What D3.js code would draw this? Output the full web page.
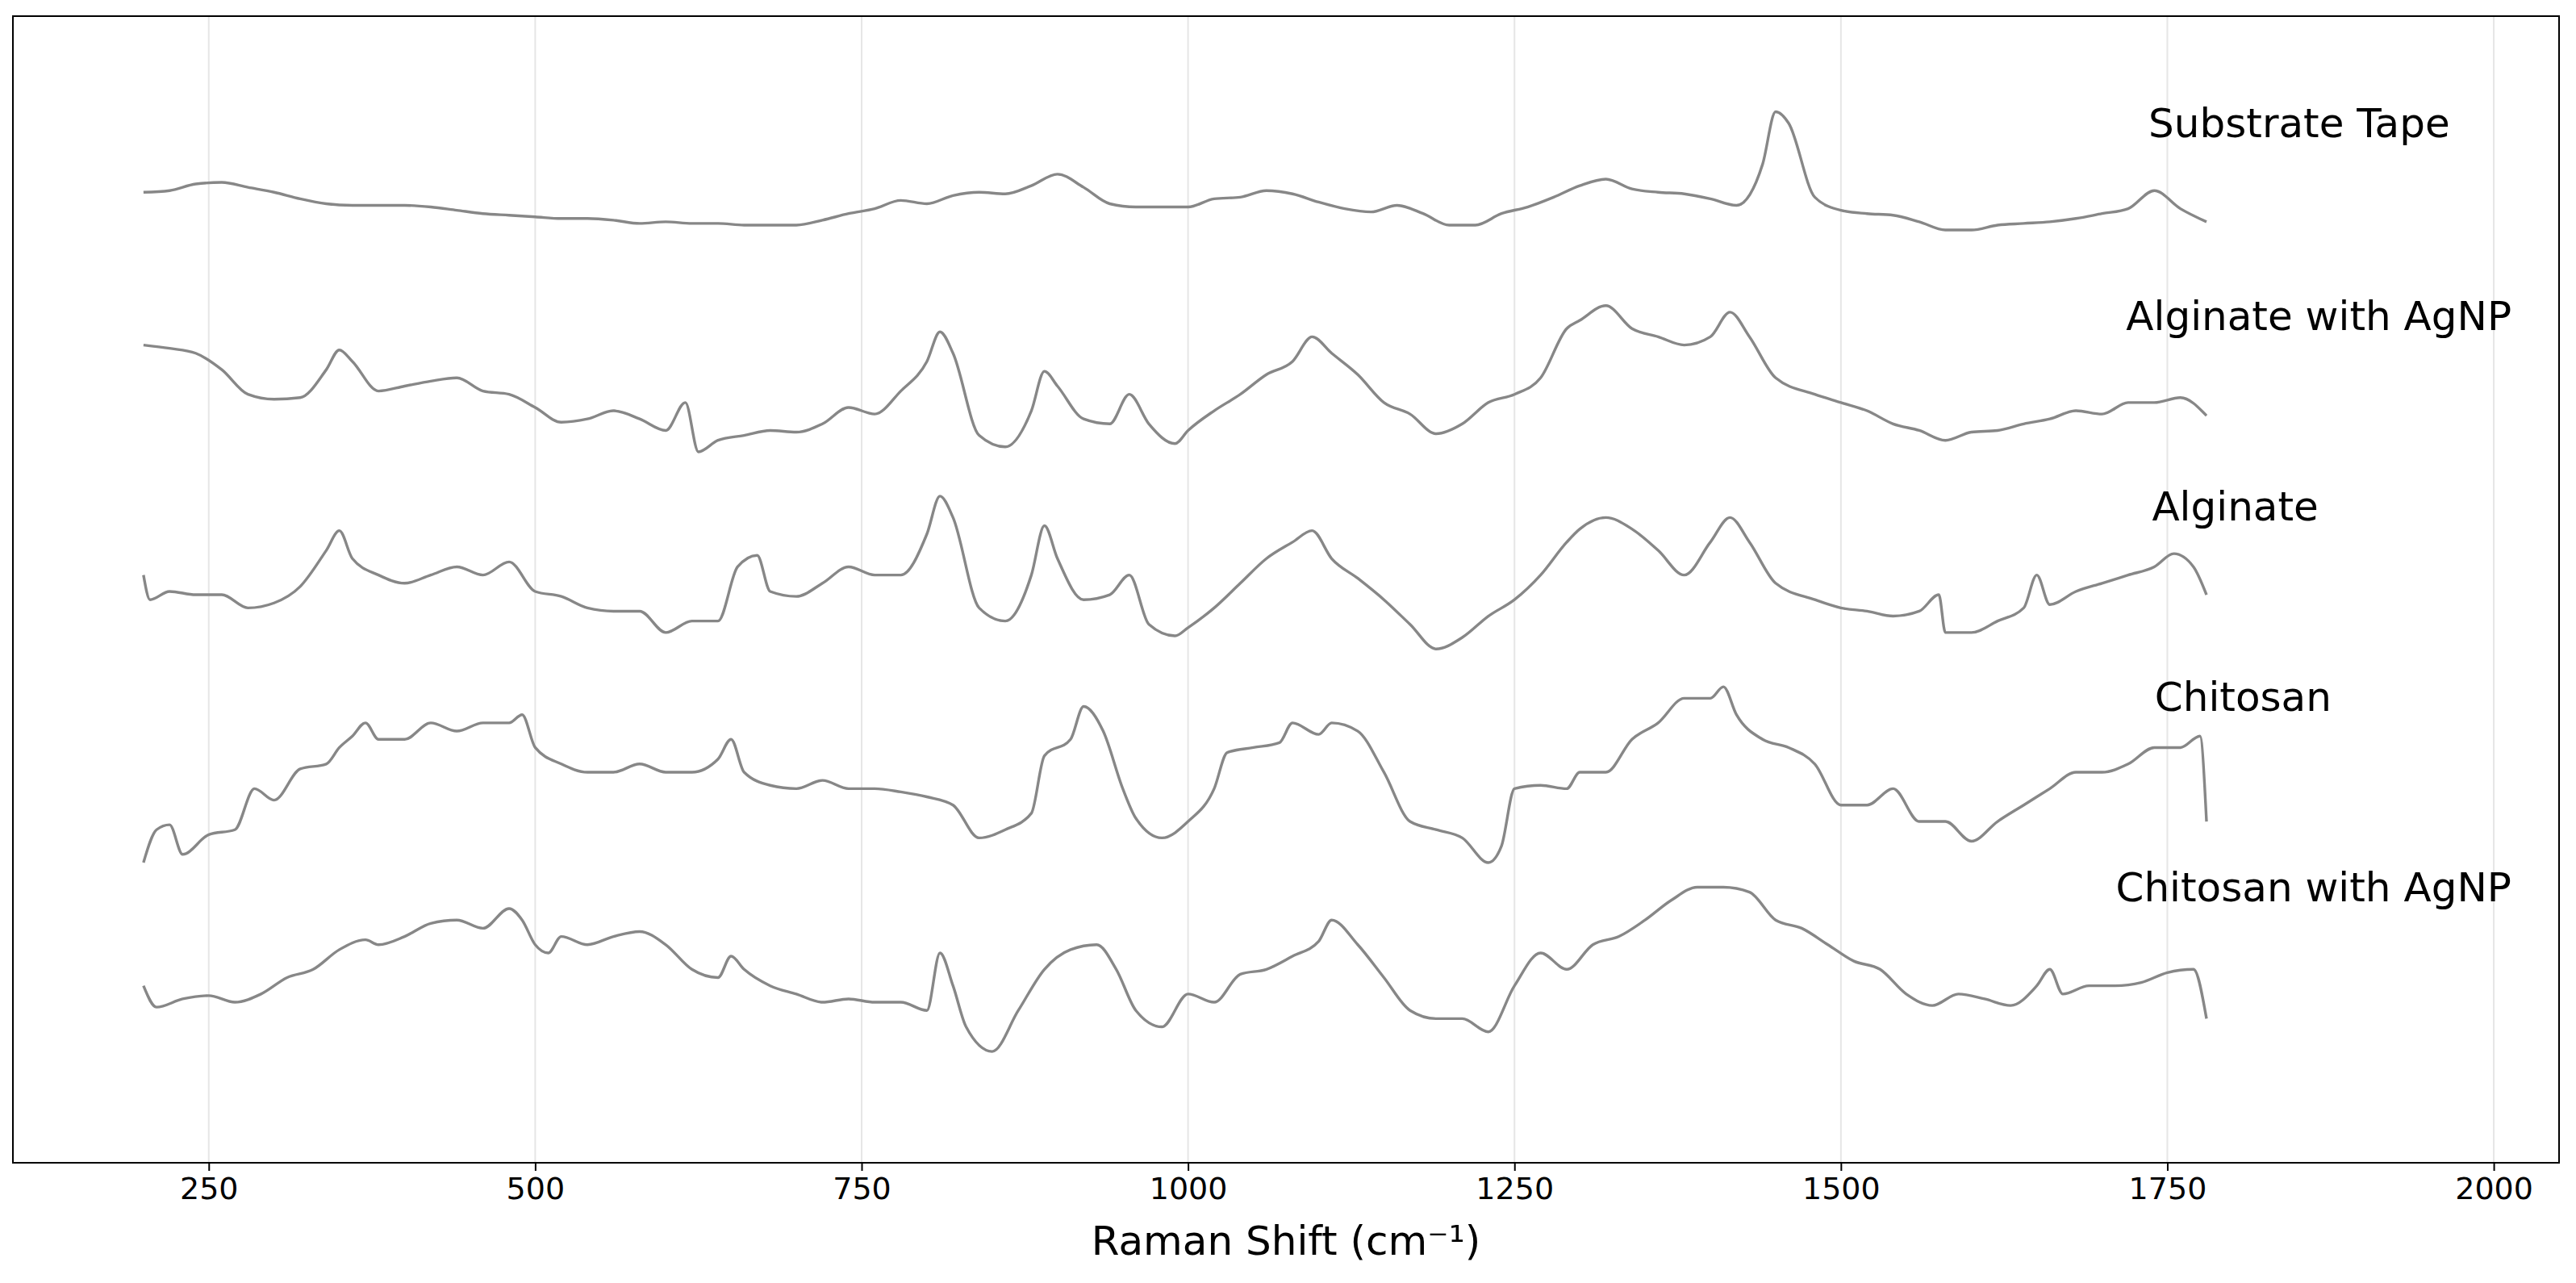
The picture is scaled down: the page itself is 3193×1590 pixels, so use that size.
<!DOCTYPE html>
<html>
<head>
<meta charset="utf-8">
<script src="https://cdn.jsdelivr.net/npm/d3@7"></script>
<style>
  body { margin: 0; background: #fff; }
  text { font-family: "DejaVu Sans", sans-serif; }
</style>
</head>
<body>
<svg id="chart" width="3193" height="1590"></svg>
<script>
// spectra: [raman shift, screen-height reading]; intensity = 720 - reading
var substrateTape = [[200,117],[220,116],[240,112],[260,111],[280,114],[300,117],[320,121],[340,124],[360,125],[380,125],[400,125],[420,126],[440,128],[460,130],[480,131],[500,132],[520,133],[540,133],[560,134],[580,136],[600,135],[620,136],[640,136],[660,137],[680,137],[700,137],[720,134],[740,130],[760,127],[780,122],[800,124],[820,119],[840,117],[860,118],[880,113],[900,106],[920,114],[940,124],[960,126],[980,126],[1000,126],[1020,121],[1040,120],[1060,116],[1080,118],[1100,123],[1120,127],[1140,129],[1160,125],[1180,130],[1200,137],[1220,137],[1240,130],[1260,126],[1280,120],[1300,113],[1320,109],[1340,115],[1360,117],[1380,118],[1400,121],[1420,125],[1440,100],[1450,68],[1460,75],[1480,120],[1500,128],[1520,130],[1540,131],[1560,135],[1580,140],[1600,140],[1620,137],[1640,136],[1660,135],[1680,133],[1700,130],[1720,127],[1740,116],[1760,127],[1780,135]];
var alginateAgNP = [[200,210],[220,212],[240,215],[260,225],[280,240],[300,243],[320,242],[340,225],[350,213],[360,220],[380,238],[400,235],[420,232],[440,230],[460,238],[480,240],[500,248],[520,257],[540,255],[560,250],[580,255],[600,262],[615,245],[625,275],[640,268],[660,265],[680,262],[700,263],[720,258],[740,248],[760,252],[780,238],[800,220],[810,202],[820,215],[840,265],[860,272],[880,250],[890,226],[900,235],[920,255],[940,258],[955,240],[970,258],[990,270],[1000,262],[1020,250],[1040,240],[1060,228],[1080,220],[1095,205],[1110,215],[1130,228],[1150,245],[1170,252],[1190,264],[1210,258],[1230,245],[1250,240],[1270,230],[1290,200],[1300,195],[1320,186],[1340,200],[1360,205],[1380,210],[1400,205],[1415,190],[1430,205],[1450,230],[1480,240],[1500,245],[1520,250],[1540,258],[1560,262],[1580,268],[1600,263],[1620,262],[1640,258],[1660,255],[1680,250],[1700,252],[1720,245],[1740,245],[1760,242],[1780,253]];
var alginate = [[200,350],[205,365],[220,360],[240,362],[260,362],[280,370],[300,367],[320,357],[340,335],[350,323],[360,340],[380,350],[400,355],[420,350],[440,345],[460,350],[480,342],[500,360],[520,363],[540,370],[560,372],[580,372],[600,385],[620,378],[640,378],[655,345],[670,338],[680,360],[700,363],[720,355],[740,345],[760,350],[780,350],[800,325],[810,302],[820,315],[840,370],[860,378],[880,350],[890,320],[900,340],[920,365],[940,362],[955,350],[970,380],[990,387],[1000,382],[1020,370],[1040,355],[1060,340],[1080,330],[1095,323],[1110,340],[1130,352],[1150,365],[1170,380],[1190,395],[1210,388],[1230,375],[1250,365],[1270,350],[1290,330],[1300,322],[1320,315],[1340,322],[1360,335],[1380,350],[1400,330],[1415,315],[1430,330],[1450,355],[1480,365],[1500,370],[1520,372],[1540,375],[1560,372],[1575,362],[1580,385],[1600,385],[1620,378],[1640,370],[1650,350],[1660,368],[1680,360],[1700,355],[1720,350],[1740,345],[1755,337],[1770,345],[1780,362]];
var chitosan = [[200,525],[210,505],[220,502],[230,520],[250,508],[270,505],[285,480],[300,487],[320,468],[340,465],[350,455],[360,448],[370,440],[380,450],[400,450],[420,440],[440,445],[460,440],[480,440],[490,435],[500,455],[520,465],[540,470],[560,470],[580,465],[600,470],[620,470],[640,462],[650,450],[660,470],[680,478],[700,480],[720,475],[740,480],[760,480],[780,482],[800,485],[820,490],[840,510],[860,505],[880,495],[890,460],[910,450],[920,430],[935,445],[950,480],[960,498],[980,510],[1000,500],[1020,480],[1030,458],[1050,455],[1070,452],[1080,440],[1100,447],[1110,440],[1130,445],[1150,470],[1170,500],[1190,505],[1210,510],[1230,525],[1240,515],[1250,480],[1270,478],[1290,480],[1300,470],[1320,470],[1340,450],[1360,440],[1380,425],[1400,425],[1410,418],[1420,435],[1440,450],[1460,455],[1480,465],[1500,490],[1520,490],[1540,480],[1560,500],[1580,500],[1600,512],[1620,500],[1640,490],[1660,480],[1680,470],[1700,470],[1720,465],[1740,455],[1760,455],[1775,448],[1780,500]];
var chitosanAgNP = [[200,600],[210,613],[230,608],[250,606],[270,610],[290,605],[310,595],[330,590],[350,578],[370,572],[380,575],[400,570],[420,562],[440,560],[460,565],[480,553],[490,560],[500,575],[510,580],[520,570],[540,575],[560,570],[580,567],[600,575],[620,590],[640,595],[650,582],[660,590],[680,600],[700,605],[720,610],[740,608],[760,610],[780,610],[800,615],[810,580],[820,600],[830,625],[850,640],[870,615],[890,590],[910,578],[930,575],[945,590],[960,615],[980,625],[1000,605],[1020,610],[1040,593],[1060,590],[1080,582],[1100,573],[1110,560],[1130,575],[1150,595],[1170,615],[1190,620],[1210,620],[1230,628],[1250,600],[1270,580],[1290,590],[1310,575],[1330,570],[1350,560],[1370,548],[1390,540],[1410,540],[1430,543],[1450,560],[1470,565],[1490,575],[1510,585],[1530,590],[1550,605],[1570,612],[1590,605],[1610,608],[1630,612],[1650,600],[1660,590],[1670,605],[1690,600],[1710,600],[1730,598],[1750,592],[1770,590],[1780,620]];

var seriesNames = ["Substrate Tape", "Alginate with AgNP", "Alginate", "Chitosan", "Chitosan with AgNP"];
var seriesData = [substrateTape, alginateAgNP, alginate, chitosan, chitosanAgNP];
var labelShift = [1851, 1866, 1802, 1808, 1862];
var labelLevel = [643, 526, 410, 294, 178];
var xTicks = [250, 500, 750, 1000, 1250, 1500, 1750, 2000];

var svg = d3.select("#chart");
var margin = {left: 16, right: 21, top: 20, bottom: 149};
var W = 3193, H = 1590;

var x = d3.scaleLinear().domain([100, 2050]).range([margin.left, W - margin.right]);
var y = d3.scaleLinear().domain([0, 720]).range([1466, 0]);

// grid
svg.append("g").selectAll("line").data(xTicks).enter().append("line")
    .attr("x1", function(d){ return x(d); }).attr("x2", function(d){ return x(d); })
    .attr("y1", margin.top).attr("y2", H - margin.bottom)
    .attr("stroke", "#e6e6e6").attr("stroke-width", 2);

var line = d3.line()
    .x(function(d){ return x(d[0]); })
    .y(function(d){ return y(720 - d[1]); })
    .curve(d3.curveMonotoneX);

svg.append("g").selectAll("path").data(seriesData).enter().append("path")
    .attr("d", line)
    .attr("fill", "none")
    .attr("stroke", "#878787")
    .attr("stroke-width", 3.4);

svg.append("g").selectAll("text").data(seriesNames).enter().append("text")
    .attr("x", function(d, i){ return x(labelShift[i]); })
    .attr("y", function(d, i){ return y(labelLevel[i]); })
    .attr("text-anchor", "middle")
    .attr("dominant-baseline", "middle")
    .attr("font-size", 50)
    .attr("fill", "#000")
    .text(function(d){ return d; });

// frame
svg.append("rect")
    .attr("x", margin.left).attr("y", margin.top)
    .attr("width", W - margin.left - margin.right)
    .attr("height", H - margin.top - margin.bottom)
    .attr("fill", "none").attr("stroke", "#000").attr("stroke-width", 2);

var xAxis = svg.append("g")
    .attr("transform", "translate(0," + (H - margin.bottom) + ")")
    .call(d3.axisBottom(x).tickValues(xTicks).tickSize(10).tickPadding(8).tickFormat(d3.format("d")));
xAxis.select(".domain").remove();
xAxis.selectAll("line").attr("stroke-width", 2);
xAxis.selectAll("text").attr("font-size", 38).attr("font-family", "DejaVu Sans");

svg.append("text")
    .attr("x", (margin.left + W - margin.right) / 2)
    .attr("y", 1555)
    .attr("text-anchor", "middle")
    .attr("font-size", 50)
    .text("Raman Shift (cm\u207B\u00B9)");
</script>
</body>
</html>
